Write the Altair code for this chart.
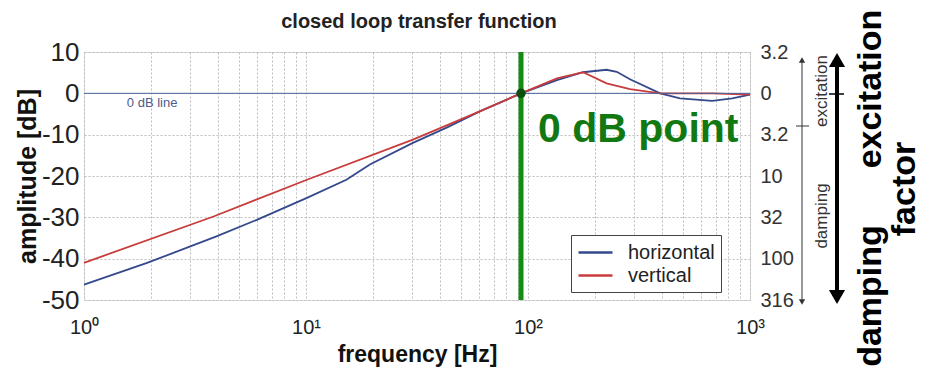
import json
import altair as alt
import pandas as pd

# ---- data ----
freq_h = [1, 1.91, 3.95, 6.0, 10.1, 15.2, 19.4, 30.3, 43, 61, 93, 135, 177, 226, 251, 288, 394, 484, 676, 832, 1000]
db_h = [-46.3, -41.1, -34.6, -30.6, -25.3, -20.9, -17.2, -12.0, -8.3, -4.3, 0.0, 3.2, 5.1, 5.7, 5.2, 3.4, 0.0, -1.2, -1.8, -1.2, -0.3]
freq_v = [1, 3.83, 10.1, 30.3, 61, 93, 135, 177, 226, 288, 394, 676, 1000]
db_v = [-41.0, -29.8, -20.9, -11.2, -4.3, 0.0, 3.6, 5.1, 2.4, 1.0, 0.0, 0.0, -0.3]
series = ["horizontal", "vertical"]
series_colors = ["#34488c", "#c83c3c"]

x_ticks = [1, 2, 3, 4, 5, 6, 7, 8, 9, 10, 20, 30, 40, 50, 60, 70, 80, 90,
           100, 200, 300, 400, 500, 600, 700, 800, 900, 1000]
y_ticks = [10, 0, -10, -20, -30, -40, -50]
right_labels = ["3.2", "0", "3.2", "10", "32", "100", "316"]

zero_db_freq = 93          # 0 dB crossing frequency
label_0db_line = ("0 dB line", 1.56, -2.4)
label_0db_point = ("0 dB point", 111, -11.8)
title_text = "closed loop transfer function"

FONT = "Liberation Sans"

df = pd.DataFrame({
    "freq": freq_h + freq_v,
    "dB": db_h + db_v,
    "series": [series[0]] * len(freq_h) + [series[1]] * len(freq_v),
})

xscale = alt.Scale(type="log", domain=[1, 1000], nice=False)
yscale = alt.Scale(domain=[-50, 10], nice=False)

x_label_expr = ("datum.value==1?'10\u2070':datum.value==10?'10\u00b9':"
                "datum.value==100?'10\u00b2':datum.value==1000?'10\u00b3':''")

x_axis = alt.Axis(values=x_ticks, labelExpr=x_label_expr, labelFontSize=20, labelFont=FONT,
                  labelColor="#222", labelPadding=17, ticks=False, domain=False,
                  grid=True, gridDash=[2, 2], gridColor="#bdbdbd", labelFlush=False,
                  labelOverlap=False,
                  title="frequency [Hz]", titleFontSize=23, titleFont=FONT,
                  titleFontWeight="bold", titleColor="#111", titlePadding=6)
y_axis = alt.Axis(values=y_ticks, labelExpr="datum.value + ''", labelFontSize=26, labelFont=FONT,
                  labelColor="#222", labelPadding=5, ticks=False, domain=False, grid=True,
                  gridDash=[2, 2], gridColor="#bdbdbd", title="amplitude [dB]", titleFontSize=25,
                  titleFont=FONT, titleFontWeight="bold", titleColor="#111", titlePadding=1)


def X(field="freq:Q"):
    return alt.X(field, scale=xscale, axis=x_axis)


def Y(field="dB:Q"):
    return alt.Y(field, scale=yscale, axis=y_axis)


lines = alt.Chart(df).mark_line(strokeWidth=1.8).encode(
    x=X(), y=Y(),
    color=alt.Color("series:N", scale=alt.Scale(domain=series, range=series_colors),
                    legend=alt.Legend(title=None, orient="none", legendX=487, legendY=183,
                                      labelFontSize=20, labelFont=FONT, labelColor="#222",
                                      symbolType="M-1,0H2.4", symbolSize=400, symbolStrokeWidth=2.5,
                                      strokeColor="#444", fillColor="white", padding=6,
                                      rowPadding=1, labelOffset=28)),
    detail="series:N",
)

zero_df = pd.DataFrame({"dB": [0]})
zero_line = alt.Chart(zero_df).mark_rule(color="#4a62a0", strokeWidth=1).encode(y=Y())

txt_line_df = pd.DataFrame({"t": [label_0db_line[0]], "freq": [label_0db_line[1]], "dB": [label_0db_line[2]]})
txt_line = alt.Chart(txt_line_df).mark_text(align="left", baseline="middle", fontSize=13,
                                            font=FONT, color="#4d5c8e").encode(x=X(), y=Y(), text="t:N")

green_df = pd.DataFrame({"freq": [zero_db_freq], "dB": [0]})
green_rule = alt.Chart(green_df).mark_rule(color="#148c14", strokeWidth=5).encode(x=X())
green_dot = alt.Chart(green_df).mark_point(filled=True, size=90, color="#0b4f0b", opacity=1).encode(
    x=X(), y=Y())

txt_pt_df = pd.DataFrame({"t": [label_0db_point[0]], "freq": [label_0db_point[1]], "dB": [label_0db_point[2]]})
txt_pt = alt.Chart(txt_pt_df).mark_text(align="left", baseline="alphabetic", fontSize=41,
                                        fontWeight="bold", font=FONT, color="#127812").encode(
    x=X(), y=Y(), text="t:N")

main = alt.layer(lines, zero_line, txt_line, green_rule, green_dot, txt_pt)

# right "damping factor" axis on the same dB positions
right_df = pd.DataFrame({"dB": y_ticks})
right_expr = json.dumps(right_labels) + "[round((10-datum.value)/10)]"
right_axis = alt.Chart(right_df).mark_point(opacity=0).encode(
    y=alt.Y("dB:Q", scale=yscale,
            axis=alt.Axis(orient="right", values=y_ticks, labelExpr=right_expr, labelFontSize=20,
                          labelFont=FONT, labelColor="#333", labelPadding=10, ticks=False,
                          domain=False, grid=False, title=None)))

one = pd.DataFrame({"a": [0]})
title_mark = alt.Chart(pd.DataFrame({"t": [title_text]})).mark_text(
    fontSize=20, fontWeight="bold", font=FONT, color="#222", align="center", baseline="middle").encode(
    x=alt.value(335), y=alt.value(-30), text="t:N")

# annotation arrows and texts to the right of the plot (pixel positions)
thin_shaft = alt.Chart(one).mark_rule(color="#333", strokeWidth=1).encode(
    x=alt.value(718), y=alt.value(8), y2=alt.value(250))
thin_tick = alt.Chart(one).mark_rule(color="#333", strokeWidth=1).encode(
    x=alt.value(712), x2=alt.value(725), y=alt.value(74))
thin_head_up = alt.Chart(one).mark_point(shape="triangle-up", filled=True,
                                         size=40, color="#333", opacity=1).encode(
    x=alt.value(718), y=alt.value(8))
thin_head_dn = alt.Chart(one).mark_point(shape="triangle-down", filled=True,
                                         size=40, color="#333", opacity=1).encode(
    x=alt.value(718), y=alt.value(250))
small_txt = alt.Chart(pd.DataFrame({"t": ["excitation", "damping"], "yy": [39, 164]})).mark_text(
    angle=270, fontSize=17, font=FONT, color="#333", align="center", baseline="middle").encode(
    x=alt.value(738), y=alt.Y("yy:Q", scale=None), text="t:N")

thick_shaft = alt.Chart(one).mark_rule(color="#000", strokeWidth=4).encode(
    x=alt.value(753), y=alt.value(10), y2=alt.value(243))
thick_tick = alt.Chart(one).mark_rule(color="#000", strokeWidth=1.5).encode(
    x=alt.value(745), x2=alt.value(760), y=alt.value(42))
thick_head_up = alt.Chart(one).mark_point(shape="triangle-up", filled=True,
                                          size=260, color="#000", opacity=1).encode(
    x=alt.value(753), y=alt.value(8))
thick_head_dn = alt.Chart(one).mark_point(shape="triangle-down", filled=True,
                                          size=260, color="#000", opacity=1).encode(
    x=alt.value(753), y=alt.value(245))
big_txt = alt.Chart(pd.DataFrame({"t": ["excitation", "damping", "factor"],
                                  "xx": [787, 787, 821],
                                  "yy": [37, 244, 137]})).mark_text(
    angle=270, fontSize=34, fontWeight="bold", font=FONT, color="#000", align="center",
    baseline="middle").encode(x=alt.X("xx:Q", scale=None), y=alt.Y("yy:Q", scale=None), text="t:N")

chart = alt.layer(
    main, right_axis, title_mark, thin_shaft, thin_tick, thin_head_up, thin_head_dn, small_txt,
    thick_shaft, thick_tick, thick_head_up, thick_head_dn, big_txt,
).resolve_scale(y="independent").properties(
    width=666, height=248,
    autosize=alt.AutoSizeParams(type="none"),
    padding={"left": 84, "top": 52, "right": 180, "bottom": 73},
).configure_view(stroke="#6a6a6a", strokeWidth=1).configure(background="white")

chart.save("out.html", embed_options={"renderer": "svg", "actions": False})
